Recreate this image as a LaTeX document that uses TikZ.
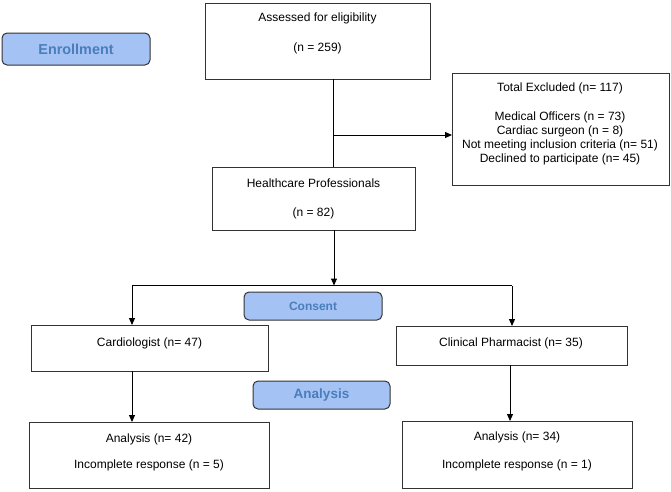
\documentclass[tikz,border=0pt]{standalone}
\usepackage{fontspec}
\setmainfont{Liberation Sans}
\usetikzlibrary{arrows.meta}
\definecolor{bluefill}{HTML}{A4C2F4}
\definecolor{bluetext}{HTML}{4A7EBB}
\definecolor{edge}{HTML}{333333}
\tikzset{
  box/.style={draw=edge, line width=1pt, fill=white, anchor=north west, inner sep=0pt, outer sep=0pt},
  phase/.style={draw=edge, line width=1pt, fill=bluefill, rounded corners=5pt, anchor=north west, inner sep=0pt, outer sep=0pt},
  txt/.style={font=\fontsize{12}{14}\selectfont, text=black, inner sep=0pt},
  ptxt/.style={text=bluetext, font=\bfseries, inner sep=0pt},
  conn/.style={draw=black, line width=1pt},
  arr/.style={conn, -{Triangle[length=7pt,width=6pt]}}
}
\begin{document}
\begin{tikzpicture}[x=1pt,y=-1pt]
\useasboundingbox (0,0) rectangle (671,491);
% phase labels
\node[phase, minimum width=148pt, minimum height=32pt] (enroll) at (2,33) {};
\node[ptxt, font=\bfseries\fontsize{14.4}{16}\selectfont] (enrollT) at (enroll.center) {Enrollment};
\node[phase, minimum width=138pt, minimum height=28pt] (consent) at (244,292) {};
\node[ptxt, font=\bfseries\fontsize{12}{14}\selectfont] (consentT) at (consent.center) {Consent};
\node[phase, minimum width=137pt, minimum height=28pt] (anal) at (253,381) {};
\node[ptxt, font=\bfseries\fontsize{13.5}{15}\selectfont] (analT) at (anal.center) {Analysis};
% boxes
\node[box, minimum width=225pt, minimum height=76pt] (assess) at (205,3) {};
\node[txt] (assess1) at (317.5,18) {Assessed for eligibility};
\node[txt] (assess2) at (317.5,48) {(n = 259)};
\node[box, minimum width=217pt, minimum height=112pt] (excl) at (452,73) {};
\node[txt] (excl1) at (560,88) {Total Excluded (n= 117)};
\node[txt] (excl2) at (560,117) {Medical Officers (n = 73)};
\node[txt] (excl3) at (560,131) {Cardiac surgeon (n = 8)};
\node[txt] (excl4) at (560,145) {Not meeting inclusion criteria (n= 51)};
\node[txt] (excl5) at (560,159) {Declined to participate (n= 45)};
\node[box, minimum width=203pt, minimum height=63pt] (hc) at (212,167) {};
\node[txt] (hc1) at (313.5,183) {Healthcare Professionals};
\node[txt] (hc2) at (313.5,213) {(n = 82)};
\node[box, minimum width=237pt, minimum height=46pt] (card) at (31,325) {};
\node[txt] (card1) at (149.5,343) {Cardiologist (n= 47)};
\node[box, minimum width=231pt, minimum height=39pt] (clin) at (396,326) {};
\node[txt] (clin1) at (511,343) {Clinical Pharmacist (n= 35)};
\node[box, minimum width=240pt, minimum height=66pt] (bl) at (29,422) {};
\node[txt] (bl1) at (149,439) {Analysis (n= 42)};
\node[txt] (bl2) at (149,465) {Incomplete response (n = 5)};
\node[box, minimum width=230pt, minimum height=67pt] (br) at (402,421) {};
\node[txt] (br1) at (517,437) {Analysis (n= 34)};
\node[txt] (br2) at (517,465) {Incomplete response (n = 1)};
% connectors
\coordinate (j) at (333,135);
\coordinate (split) at (334,285.5);
\coordinate (lt) at (132,285.5);
\coordinate (rt) at (512,285.5);
\coordinate (rd) at (510,285.5);
\draw[conn] (assess.south -| j) -- (hc.north -| j);
\draw[arr] (j) -- (j -| excl.west);
\draw[arr] (hc.south -| split) -- (split);
\draw[conn] (lt) -- (rt);
\draw[arr] (lt) -- (card.north -| lt);
\draw[arr] (rt) -- (clin.north -| rt);
\draw[arr] (card.south -| lt) -- (bl.north -| lt);
\draw[arr] (clin.south -| rd) -- (br.north -| rd);
\end{tikzpicture}
\end{document}
